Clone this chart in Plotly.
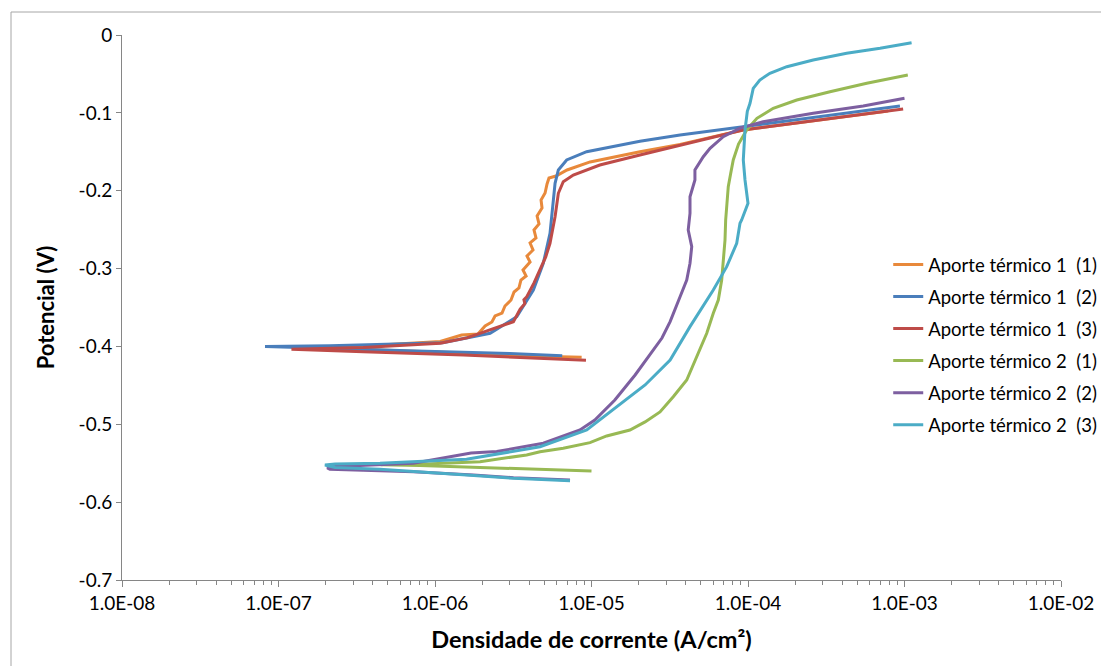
import plotly.graph_objects as go

# ---------------- data ----------------
names = ["Aporte térmico 1  (1)", "Aporte térmico 1  (2)", "Aporte térmico 1  (3)",
         "Aporte térmico 2  (1)", "Aporte térmico 2  (2)", "Aporte térmico 2  (3)"]
colors = ["#E8893B", "#4A7EBB", "#BE4B48", "#98B954", "#7D5FA0", "#4BACC6"]

# Aporte térmico 1 (1)
at1_1_i = [8.65e-6, 4.0e-6, 1.52e-6, 3.48e-7, 1.59e-7, 3.48e-7, 1.08e-6,
           1.48e-6, 1.88e-6, 2.09e-6, 2.31e-6, 2.42e-6, 2.68e-6, 2.80e-6, 3.06e-6, 3.20e-6,
           3.44e-6, 3.54e-6, 3.82e-6, 3.65e-6, 4.05e-6, 3.87e-6, 4.23e-6, 4.05e-6, 4.42e-6,
           4.29e-6, 4.62e-6, 4.49e-6, 4.83e-6, 4.76e-6, 5.05e-6, 5.20e-6, 5.35e-6, 5.93e-6,
           6.98e-6, 9.8e-6, 2.04e-5, 3.68e-5, 9.29e-5, 7.86e-4]
at1_1_e = [-0.414, -0.4123, -0.4084, -0.4033, -0.4014, -0.3994, -0.3937,
           -0.3853, -0.384, -0.3737, -0.3686, -0.3609, -0.3571, -0.3481, -0.3404, -0.3301,
           -0.3249, -0.3147, -0.3095, -0.3018, -0.2915, -0.2838, -0.2761, -0.2671, -0.2607,
           -0.2504, -0.2427, -0.2324, -0.2222, -0.2119, -0.2029, -0.1913, -0.1837, -0.1811,
           -0.1734, -0.163, -0.1499, -0.1405, -0.122, -0.0976]

# Aporte térmico 1 (2)
at1_2_i = [6.5e-6, 3.0e-6, 7.64e-7, 2.13e-7, 8.2e-8, 2.13e-7, 1.12e-6, 2.25e-6, 3.33e-6,
           4.25e-6, 4.92e-6, 5.43e-6, 5.70e-6, 5.85e-6, 6.14e-6, 6.94e-6, 9.31e-6, 2.04e-5,
           3.68e-5, 9.29e-5, 9.35e-4]
at1_2_e = [-0.412, -0.409, -0.4058, -0.4029, -0.400, -0.399, -0.3952, -0.3831, -0.3618,
           -0.3275, -0.2932, -0.2547, -0.2162, -0.1905, -0.1734, -0.1605, -0.1499, -0.1365,
           -0.1285, -0.1178, -0.0912]

# Aporte térmico 1 (3)
at1_3_i = [9.22e-6, 1.52e-6, 3.48e-7, 1.21e-7, 3.48e-7, 1.08e-6, 1.6e-6, 2.25e-6, 3.17e-6,
           3.5e-6, 3.75e-6, 3.7e-6, 3.86e-6, 4.3e-6, 4.69e-6, 5.1e-6, 5.43e-6, 5.85e-6,
           6.14e-6, 6.6e-6, 7.65e-6, 1.13e-5, 2.04e-5, 3.68e-5, 9.29e-5, 9.8e-4]
at1_3_e = [-0.4178, -0.411, -0.4067, -0.4037, -0.4013, -0.396, -0.389, -0.3789, -0.3682,
           -0.352, -0.345, -0.340, -0.3361, -0.318, -0.3018, -0.285, -0.2675, -0.2334,
           -0.2033, -0.1884, -0.1798, -0.167, -0.1541, -0.1413, -0.122, -0.095]

# Aporte térmico 2 (1)
at2_1_i = [1.0e-5, 5.0e-6, 3.41e-6, 1.38e-6, 8.0e-7, 4.5e-7, 8.0e-7, 1.94e-6, 3.85e-6,
           4.69e-6, 6.6e-6, 9.78e-6, 1.25e-5, 1.76e-5, 2.2e-5, 2.74e-5, 3.33e-5, 4.06e-5,
           4.7e-5, 5.45e-5, 6.0e-5, 6.46e-5, 6.79e-5, 6.95e-5, 7.13e-5, 7.2e-5, 7.31e-5,
           7.48e-5, 7.75e-5, 8.05e-5, 8.7e-5, 9.81e-5, 1.14e-4, 1.45e-4, 2.05e-4, 3.34e-4,
           5.74e-4, 1.05e-3]
at2_1_e = [-0.560, -0.558, -0.5565, -0.5545, -0.553, -0.552, -0.5514, -0.548, -0.5394,
           -0.5352, -0.5308, -0.5236, -0.515, -0.5073, -0.497, -0.4842, -0.4646, -0.4431,
           -0.4132, -0.3831, -0.3574, -0.3404, -0.3147, -0.2932, -0.2633, -0.2376, -0.2162,
           -0.1948, -0.178, -0.1605, -0.140, -0.122, -0.107, -0.0941, -0.0835, -0.0728,
           -0.062, -0.0514]

# Aporte térmico 2 (2)
at2_2_i = [7.29e-6, 3.17e-6, 1.76e-6, 7.27e-7, 2.13e-7, 2.05e-7, 2.13e-7, 7.27e-7, 1.7e-6,
           2.48e-6, 4.92e-6, 6.6e-6, 8.44e-6, 1.05e-5, 1.41e-5, 1.9e-5, 2.36e-5, 2.82e-5,
           3.18e-5, 3.33e-5, 3.68e-5, 4.06e-5, 4.26e-5, 4.37e-5, 4.15e-5, 4.26e-5, 4.26e-5,
           4.58e-5, 4.58e-5, 5.18e-5, 5.72e-5, 6.95e-5, 8.89e-5, 1.25e-4, 2.61e-4, 5.45e-4,
           1.0e-3]
at2_2_e = [-0.5715, -0.5686, -0.5651, -0.5609, -0.5578, -0.556, -0.5545, -0.5501, -0.537,
           -0.535, -0.5244, -0.515, -0.5073, -0.4945, -0.4688, -0.4367, -0.411, -0.3892,
           -0.3682, -0.3574, -0.3361, -0.3147, -0.2932, -0.2719, -0.2504, -0.229, -0.2077,
           -0.1862, -0.1734, -0.1563, -0.1455, -0.1306, -0.1198, -0.1114, -0.1006, -0.0912,
           -0.0813]

# Aporte térmico 2 (3)
at2_3_i = [7.29e-6, 3.17e-6, 1.59e-6, 4.45e-7, 2.3e-7, 1.98e-7, 2.3e-7, 4.45e-7, 1.59e-6,
           4.69e-6, 9.32e-6, 1.13e-5, 1.52e-5, 2.2e-5, 3.18e-5, 4.26e-5, 6.0e-5, 7.31e-5,
           8.47e-5, 8.89e-5, 9.11e-5, 9.81e-5, 1.0e-4, 9.81e-5, 9.57e-5, 9.33e-5, 9.57e-5,
           9.9e-5, 1.03e-4, 1.08e-4, 1.19e-4, 1.38e-4, 1.77e-4, 2.61e-4, 4.27e-4, 6.98e-4,
           1.11e-3]
at2_3_e = [-0.5724, -0.5694, -0.5651, -0.5578, -0.5555, -0.5523, -0.551, -0.5501, -0.545,
           -0.5288, -0.5073, -0.4945, -0.4752, -0.4495, -0.4174, -0.3746, -0.3275, -0.2976,
           -0.2675, -0.2418, -0.2376, -0.2205, -0.2162, -0.2033, -0.1862, -0.1605, -0.122,
           -0.098, -0.0877, -0.0685, -0.0578, -0.0492, -0.0407, -0.0321, -0.0235, -0.0171,
           -0.0099]

x_tickvals = [1e-8, 1e-7, 1e-6, 1e-5, 1e-4, 1e-3, 1e-2]
x_ticktext = ["1.0E-08", "1.0E-07", "1.0E-06", "1.0E-05", "1.0E-04", "1.0E-03", "1.0E-02"]
y_tickvals = [0, -0.1, -0.2, -0.3, -0.4, -0.5, -0.6, -0.7]
y_ticktext = ["0", "-0.1", "-0.2", "-0.3", "-0.4", "-0.5", "-0.6", "-0.7"]

series = [(at1_1_i, at1_1_e), (at1_2_i, at1_2_e), (at1_3_i, at1_3_e),
          (at2_1_i, at2_1_e), (at2_2_i, at2_2_e), (at2_3_i, at2_3_e)]

# ---------------- figure ----------------
FONT = "Lato, 'Liberation Sans', sans-serif"
fig = go.Figure()
for k, ((xi, ye), nm, c) in enumerate(zip(series, names, colors)):
    fig.add_trace(go.Scatter(x=xi, y=ye, mode="lines", name=nm, legendgroup=f"g{k}",
                             line=dict(color=c, width=3)))

axis_col = "#868686"
fig.update_layout(
    width=1101, height=666, autosize=False,
    margin=dict(l=122, r=40, t=35, b=86, autoexpand=False),
    paper_bgcolor="white", plot_bgcolor="white",
    font=dict(family=FONT, size=19, color="#000000"),
    xaxis=dict(type="log", range=[-8, -2], tickvals=x_tickvals, ticktext=x_ticktext,
               showgrid=False, zeroline=False, showline=True, linecolor=axis_col, linewidth=1,
               ticks="outside", ticklen=6, tickcolor=axis_col,
               minor=dict(ticks="outside", ticklen=4, tickcolor=axis_col, dtick="D1", showgrid=False),
               tickfont=dict(size=19),
               title=dict(text="<b>Densidade de corrente (A/cm²)</b>", font=dict(size=23.5), standoff=18)),
    yaxis=dict(range=[-0.7, 0], tickvals=y_tickvals, ticktext=y_ticktext,
               showgrid=False, zeroline=False, showline=True, linecolor=axis_col, linewidth=1,
               ticks="outside", ticklen=5, tickcolor=axis_col, tickfont=dict(size=19),
               title=dict(text="<b>Potencial (V)</b>", font=dict(size=22), standoff=17)),
    legend=dict(x=0.816, y=0.613, xanchor="left", yanchor="top", bgcolor="rgba(0,0,0,0)",
                font=dict(size=18.5), itemwidth=30, tracegroupgap=5),
    showlegend=True,
)

# outer chart-area border (left and top edges visible)
border = "#A6A6A6"
fig.add_shape(type="line", xref="paper", yref="paper", x0=-0.1182, x1=1.05, y0=1.0422, y1=1.0422,
              line=dict(color=border, width=1))
fig.add_shape(type="line", xref="paper", yref="paper", x0=-0.1182, x1=-0.1182, y0=1.0422, y1=-0.2,
              line=dict(color=border, width=1))

fig.write_html("out.html", config={"displayModeBar": False},
               post_script="document.body.style.margin='0';")
